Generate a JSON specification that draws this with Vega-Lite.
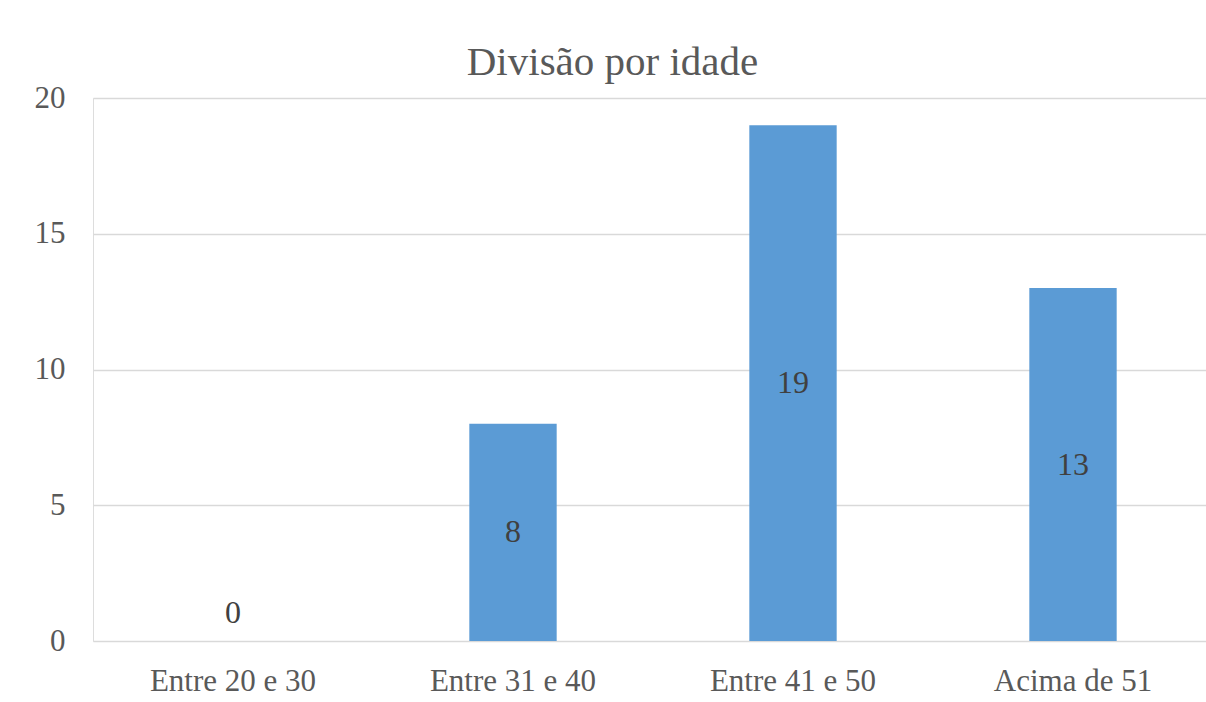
{
  "$schema": "https://vega.github.io/schema/vega-lite/v6.json",
  "autosize": {"type": "none"},
  "padding": {"left": 93, "top": 98, "right": 0, "bottom": 61},
  "width": 1113,
  "height": 543,
  "background": "white",
  "title": {
    "text": "Divisão por idade",
    "font": "Liberation Serif",
    "fontSize": 41,
    "fontWeight": "normal",
    "color": "#595959",
    "anchor": "middle",
    "dx": -37,
    "dy": 44,
    "baseline": "alphabetic",
    "offset": 10
  },
  "data": {
    "values": [
      {"faixa": "Entre 20 e 30", "valor": 0},
      {"faixa": "Entre 31 e 40", "valor": 8},
      {"faixa": "Entre 41 e 50", "valor": 19},
      {"faixa": "Acima de 51", "valor": 13}
    ]
  },
  "transform": [{"calculate": "datum.valor / 2", "as": "meio"}],
  "encoding": {
    "x": {
      "field": "faixa",
      "type": "nominal",
      "sort": null,
      "scale": {"range": [0, 1120], "paddingInner": 0.688, "paddingOuter": 0.344},
      "axis": {
        "title": null,
        "domain": false,
        "ticks": false,
        "tickSize": 0,
        "labelAngle": 0,
        "labelFont": "Liberation Serif",
        "labelFontSize": 31,
        "labelColor": "#595959",
        "labelBaseline": "alphabetic",
        "labelPadding": 49,
        "grid": false
      }
    }
  },
  "layer": [
    {
      "mark": {"type": "bar", "color": "#5B9BD5"},
      "encoding": {
        "y": {
          "field": "valor",
          "type": "quantitative",
          "scale": {"domain": [0, 20], "nice": false},
          "axis": {
            "title": null,
            "values": [0, 5, 10, 15, 20],
            "domain": false,
            "ticks": false,
            "tickSize": 0,
            "labelFont": "Liberation Serif",
            "labelFontSize": 31,
            "labelColor": "#595959",
            "labelPadding": 28,
            "grid": true,
            "gridColor": "#D9D9D9",
            "gridWidth": 1.5
          }
        }
      }
    },
    {
      "transform": [{"filter": "datum.valor > 0"}],
      "mark": {"type": "text", "font": "Liberation Serif", "fontSize": 32, "color": "#404040", "baseline": "middle"},
      "encoding": {
        "y": {"field": "meio", "type": "quantitative"},
        "text": {"field": "valor", "type": "quantitative"}
      }
    },
    {
      "transform": [{"filter": "datum.valor == 0"}],
      "mark": {"type": "text", "font": "Liberation Serif", "fontSize": 32, "color": "#404040", "baseline": "middle", "dy": -28},
      "encoding": {
        "y": {"field": "meio", "type": "quantitative"},
        "text": {"field": "valor", "type": "quantitative"}
      }
    }
  ]
}
